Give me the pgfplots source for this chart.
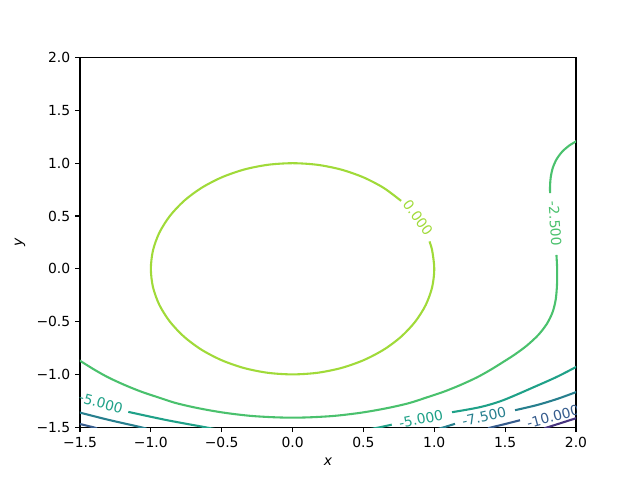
\documentclass[border=0pt]{standalone}
\usepackage{pgfplots}
\pgfplotsset{compat=1.18}
\usepackage{fontspec}
\setmainfont{DejaVu Sans}
\definecolor{c0}{HTML}{A0DA39}
\definecolor{c1}{HTML}{4AC16D}
\definecolor{c2}{HTML}{1FA188}
\definecolor{c3}{HTML}{277F8E}
\definecolor{c4}{HTML}{365C8D}
\definecolor{c5}{HTML}{46337E}
\begin{document}
\begin{tikzpicture}
\begin{axis}[
  scale only axis, width=357.12pt, height=266.11pt,
  xmin=-1.5, xmax=2, ymin=-1.5, ymax=2,
  xtick={-1.5,-1,-0.5,0,0.5,1,1.5,2},
  ytick={-1.5,-1,-0.5,0,0.5,1,1.5,2},
  xticklabels={−1.5,−1.0,−0.5,0.0,0.5,1.0,1.5,2.0},
  yticklabels={−1.5,−1.0,−0.5,0.0,0.5,1.0,1.5,2.0},
  tick pos=left, tick align=outside,
  major tick length=3.5pt,
  tick style={black, line width=0.8pt},
  axis line style={line width=0.8pt},
  ticklabel style={font=\fontsize{10}{12}\selectfont},
  xlabel={\textit{x}}, ylabel={\textit{y}},
  label style={font=\fontsize{10}{12}\selectfont},
  xlabel style={at={([yshift=-24.5pt]axis description cs:0.5,0)}, anchor=center, inner sep=0pt},
  ylabel style={at={([xshift=-43.2pt]axis description cs:0,0.5)}, anchor=center, inner sep=0pt},
  clip=true,
]
% level 0
\addplot[c0, line width=1.5pt, smooth] coordinates {
(0.766,0.643)(0.643,0.766)(0.5,0.866)(0.342,0.940)(0.174,0.985)(0,1)
(-0.174,0.985)(-0.342,0.940)(-0.5,0.866)(-0.643,0.766)(-0.766,0.643)(-0.866,0.5)
(-0.940,0.342)(-0.985,0.174)(-1,0)(-0.985,-0.174)(-0.940,-0.342)(-0.866,-0.5)
(-0.766,-0.643)(-0.643,-0.766)(-0.5,-0.866)(-0.342,-0.940)(-0.174,-0.985)(0,-1)
(0.174,-0.985)(0.342,-0.940)(0.5,-0.866)(0.643,-0.766)(0.766,-0.643)(0.866,-0.5)
(0.940,-0.342)(0.985,-0.174)(1,0)(0.985,0.174)(0.966,0.259)};
% level -2.5
\addplot[c1, line width=1.5pt, smooth] coordinates {
(2.02,1.222)(1.95,1.165)(1.90,1.105)(1.862,1.035)(1.836,0.955)(1.822,0.87)(1.817,0.79)(1.817,0.717)};
\addplot[c1, line width=1.5pt, smooth] coordinates {
(1.862,0.131)(1.867,0.0)(1.866,-0.15)(1.857,-0.29)(1.835,-0.41)(1.795,-0.52)(1.735,-0.625)
(1.655,-0.725)(1.57,-0.81)(1.488,-0.881)(1.394,-0.959)(1.300,-1.029)(1.182,-1.102)
(1.065,-1.165)(0.947,-1.218)(0.830,-1.269)(0.712,-1.307)(0.595,-1.338)(0.477,-1.364)
(0.359,-1.384)(0.265,-1.396)(0.13,-1.406)(0,-1.410)(-0.13,-1.406)(-0.265,-1.396)
(-0.359,-1.384)(-0.477,-1.364)(-0.595,-1.338)(-0.712,-1.307)(-0.830,-1.269)(-0.947,-1.218)
(-1.065,-1.165)(-1.182,-1.102)(-1.300,-1.029)(-1.394,-0.959)(-1.488,-0.881)(-1.52,-0.855)};
% level -5
\addplot[c2, line width=1.5pt, smooth] coordinates {
(-1.159,-1.355)(-0.888,-1.433)(-0.618,-1.5)(-0.5,-1.53)};
\addplot[c2, line width=1.5pt, smooth] coordinates {
(0.5,-1.53)(0.618,-1.5)(0.70,-1.476)};
\addplot[c2, line width=1.5pt, smooth] coordinates {
(1.125,-1.358)(1.323,-1.31)(1.487,-1.244)(1.734,-1.102)(1.87,-1.02)(2.0,-0.93)(2.03,-0.905)};
% level -7.5
\addplot[c3, line width=1.5pt, smooth] coordinates {
(-1.52,-1.355)(-1.5,-1.362)(-1.3,-1.43)(-1.07,-1.5)(-1.03,-1.515)};
\addplot[c3, line width=1.5pt, smooth] coordinates {
(1.03,-1.515)(1.07,-1.5)(1.146,-1.468)};
\addplot[c3, line width=1.5pt, smooth] coordinates {
(1.57,-1.339)(1.723,-1.291)(1.864,-1.234)(2.0,-1.168)(2.03,-1.153)};
% level -10
\addplot[c4, line width=1.5pt, smooth] coordinates {
(-1.52,-1.464)(-1.5,-1.47)(-1.408,-1.5)(-1.38,-1.51)};
\addplot[c4, line width=1.5pt, smooth] coordinates {
(1.38,-1.51)(1.408,-1.5)(1.5,-1.47)(1.605,-1.434)};
% level -12.5
\addplot[c5, line width=1.5pt, smooth] coordinates {
(1.78,-1.508)(1.802,-1.5)(2.0,-1.415)(2.03,-1.40)};
% contour labels
\node[text=c0, rotate=-54, font=\fontsize{10}{12}\selectfont, inner sep=0pt] at (axis cs:0.885,0.482) {0.000};
\node[text=c1, rotate=-86, font=\fontsize{10}{12}\selectfont, inner sep=0pt] at (axis cs:1.852,0.425) {-2.500};
\node[text=c2, rotate=-15, font=\fontsize{10}{12}\selectfont, inner sep=0pt] at (axis cs:-1.352,-1.27) {-5.000};
\node[text=c2, rotate=11.6, font=\fontsize{10}{12}\selectfont, inner sep=0pt] at (axis cs:0.906,-1.424) {-5.000};
\node[text=c3, rotate=13, font=\fontsize{10}{12}\selectfont, inner sep=0pt] at (axis cs:1.351,-1.396) {-7.500};
\node[text=c4, rotate=15, font=\fontsize{10}{12}\selectfont, inner sep=0pt] at (axis cs:1.838,-1.40) {-10.000};
\coordinate (sw) at (rel axis cs:0,0);
\end{axis}
\pgfresetboundingbox
\path[use as bounding box] (sw) ++(-57.6pt,-38.02pt) rectangle ++(460.8pt,345.6pt);
\end{tikzpicture}
\end{document}
